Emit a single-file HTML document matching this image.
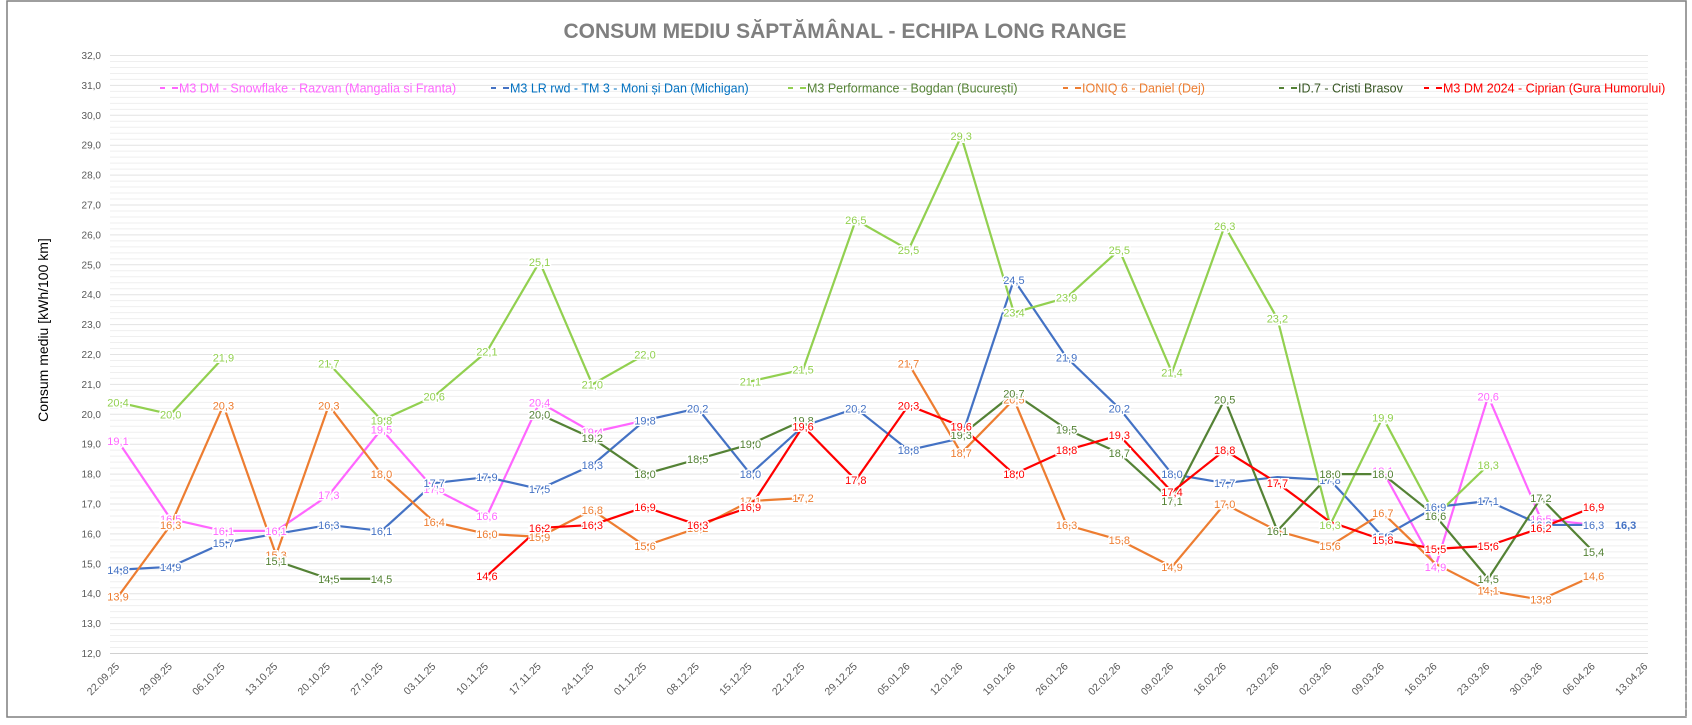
<!DOCTYPE html>
<html><head><meta charset="utf-8"><style>
html,body{margin:0;padding:0;background:#fff}
svg{display:block;font-family:"Liberation Sans",Arial,sans-serif}
</style></head><body>
<svg id="c" width="1692" height="725" xmlns="http://www.w3.org/2000/svg"></svg>
<script>
const s=document.getElementById('c');let h='';
h+='<rect x="7" y="1" width="1679" height="716" fill="#fff" stroke="#7f7f7f" stroke-width="1.5"/>';
h+='<line x1="1686" y1="60" x2="1686" y2="717" stroke="#bbb" stroke-dasharray="2,6"/>';
const X0=110,X1=1648,px=i=>118+52.7*i,py=v=>653.5-(v-12)*29.9;
for(let k=0;k<=100;k++){const v=12+k*0.2;const y=py(v);const maj=k%5==0;
h+=`<line x1="${X0}" x2="${X1}" y1="${y}" y2="${y}" stroke="${k==0?'#d0d0d0':(maj?'#e3e3e3':'#efefef')}" stroke-width="1"/>`;
if(maj)h+=`<text x="101" y="${y+3.5}" font-size="10" fill="#595959" text-anchor="end">${(v).toFixed(1).replace('.',',')}</text>`;}
const d=['22.09.25','29.09.25','06.10.25','13.10.25','20.10.25','27.10.25','03.11.25','10.11.25','17.11.25','24.11.25','01.12.25','08.12.25','15.12.25','22.12.25','29.12.25','05.01.26','12.01.26','19.01.26','26.01.26','02.02.26','09.02.26','16.02.26','23.02.26','02.03.26','09.03.26','16.03.26','23.03.26','30.03.26','06.04.26','13.04.26'];
d.forEach((t,i)=>{const x=px(i)+2,y=667;h+=`<text transform="translate(${x},${y}) rotate(-45)" font-size="10.5" fill="#595959" text-anchor="end">${t}</text>`;});
h+='<text x="845" y="38" font-size="21" font-weight="bold" fill="#7f7f7f" text-anchor="middle">CONSUM MEDIU SĂPTĂMÂNAL - ECHIPA LONG RANGE</text>';
h+='<text transform="translate(48,330) rotate(-90)" font-size="14" fill="#000" text-anchor="middle">Consum mediu [kWh/100 km]</text>';
const N=null;
const S=[
['#ff66ff',[19.1,16.5,16.1,16.1,17.3,19.5,17.5,16.6,20.4,19.4,19.8,N,N,N,N,N,N,N,N,N,N,N,N,N,18.1,14.9,20.6,16.5,16.3],[10]],
['#4472c4',[14.8,14.9,15.7,16.0,16.3,16.1,17.7,17.9,17.5,18.3,19.8,20.2,18.0,19.6,20.2,18.8,19.2,24.5,21.9,20.2,18.0,17.7,17.9,17.8,15.9,16.9,17.1,16.3,16.3],[3,13,16,22]],
['#92d050',[20.4,20.0,21.9,N,21.7,19.8,20.6,22.1,25.1,21.0,22.0,N,21.1,21.5,26.5,25.5,29.3,23.4,23.9,25.5,21.4,26.3,23.2,16.3,19.9,16.6,18.3],[]],
['#ed7d31',[13.9,16.3,20.3,15.3,20.3,18.0,16.4,16.0,15.9,16.8,15.6,16.2,17.1,17.2,N,21.7,18.7,20.5,16.3,15.8,14.9,17.0,16.1,15.6,16.7,15.0,14.1,13.8,14.6],[22,25]],
['#548235',[N,N,N,15.1,14.5,14.5,N,N,20.0,19.2,18.0,18.5,19.0,19.8,N,N,19.3,20.7,19.5,18.7,17.1,20.5,16.1,18.0,18.0,16.6,14.5,17.2,15.4],[]],
['#ff0000',[N,N,N,N,N,N,N,14.6,16.2,16.3,16.9,16.3,16.9,19.6,17.8,20.3,19.6,18.0,18.8,19.3,17.4,18.8,17.7,16.4,15.8,15.5,15.6,16.2,16.9],[23]]];
let lab='';
S.forEach(([c,v,hide])=>{let seg=[];const flush=()=>{if(seg.length>1)h+=`<polyline points="${seg.join(' ')}" fill="none" stroke="${c}" stroke-width="2.2" stroke-linejoin="round"/>`;seg=[];};
v.forEach((a,i)=>{if(a==null){flush();return;}seg.push(px(i)+','+py(a));
if(!hide.includes(i))lab+=`<text x="${px(i)}" y="${py(a)+4}" font-size="11" fill="${c}" text-anchor="middle" stroke="#fff" stroke-width="3" paint-order="stroke">${a.toFixed(1).replace('.',',')}</text>`;});flush();});
h+=lab;
h+=`<text x="${px(28)+32}" y="${py(16.3)+4}" font-size="11" font-weight="bold" fill="#4472c4" text-anchor="middle">16,3</text>`;
const L=[['#ff66ff',160,'M3 DM - Snowflake - Razvan (Mangalia si Franta)'],['#0070c0',491,'M3 LR rwd - TM 3 - Moni și Dan (Michigan)'],['#92d050',788,'M3 Performance - Bogdan (București)'],['#ed7d31',1063,'IONIQ 6 - Daniel (Dej)'],['#375623',1279,'ID.7 - Cristi Brasov'],['#ff0000',1424,'M3 DM 2024 - Ciprian (Gura Humorului)']];
const LT=['#ff66ff','#0070c0','#548235','#ed7d31','#375623','#ff0000'];
L.forEach(([c,x,t],i)=>{h+=`<line x1="${x}" x2="${x+5}" y1="88" y2="88" stroke="${S[i][0]}" stroke-width="2"/><line x1="${x+12}" x2="${x+18}" y1="88" y2="88" stroke="${S[i][0]}" stroke-width="2"/><text x="${x+19}" y="92.5" font-size="12.5" fill="${LT[i]}">${t}</text>`;});
s.innerHTML=h;
</script>
</body></html>
